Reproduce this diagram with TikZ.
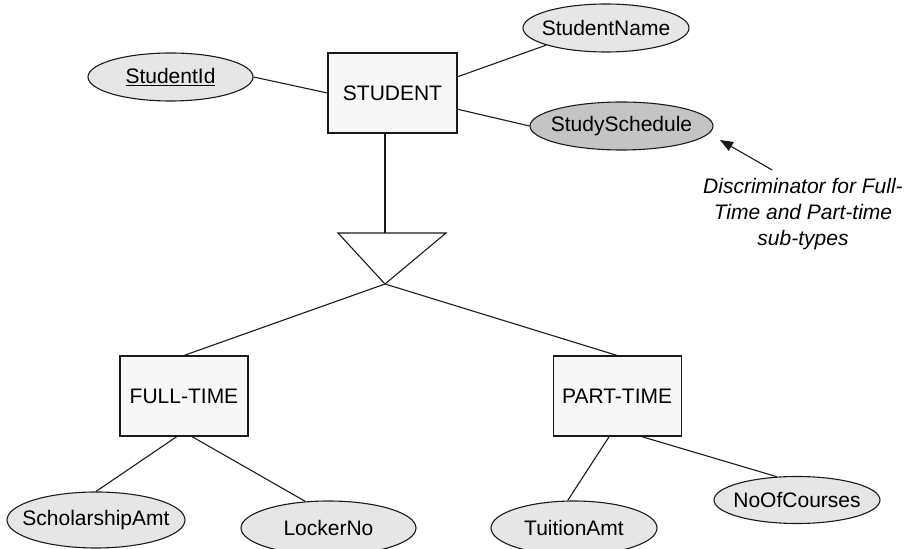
\documentclass[tikz,border=0pt]{standalone}
\usepackage{fontspec}
\setmainfont{Liberation Sans}
\usetikzlibrary{arrows.meta,positioning,shapes.geometric}
\definecolor{erline}{HTML}{1A1A1A}
\definecolor{erentity}{HTML}{F7F7F7}
\definecolor{erattr}{HTML}{E6E6E6}
\definecolor{erdisc}{HTML}{C4C4C4}
\newcommand{\erfont}{\fontsize{21}{26}\selectfont}
\tikzset{
  entity/.style={draw=erline,line width=1.1pt,fill=erentity,inner sep=0pt,
                 minimum width=129pt,minimum height=80pt,font=\erfont},
  % the label may run past the ellipse border, so it takes no width
  attr/.style={ellipse,draw=erline,line width=1.1pt,fill=erattr,inner sep=0pt,
               minimum height=48pt,font=\erfont,
               execute at begin node={\hbox to 0pt\bgroup\hss},
               execute at end node={\hss\egroup}},
  discattr/.style={attr,fill=erdisc},
  link/.style={draw=erline,line width=1.1pt},
  pointer/.style={-{Triangle[length=13pt,width=10pt]},line width=1.1pt,draw=erline},
  notelabel/.style={font=\erfont\itshape,align=center,inner xsep=3pt,inner ysep=8pt}
}

\begin{document}
\begin{tikzpicture}[x=1pt,y=1pt]
    \useasboundingbox (0,0) rectangle (906,549);
    \clip (0,0) rectangle (906,549);

    % supertype with its attributes
    \node[entity] (student) at (392.5,456) {STUDENT};
    \node[attr,minimum width=165pt] (studentid) at (170.5,472) {\underline{StudentId}};
    \node[attr,minimum width=166pt] (studentname) at (606,521) {StudentName};
    \node[discattr,minimum width=183pt] (studysched) at (621.5,423) {StudySchedule};

    % subtypes
    \node[entity,minimum width=128pt] (fulltime) at (184,153) {FULL-TIME};
    \node[entity,minimum width=128pt,right=304pt of fulltime] (parttime) {PART-TIME};

    \node[attr,minimum width=178pt,minimum height=56pt] (scholarship) at (96,29) {ScholarshipAmt};
    \node[attr,minimum width=175pt,minimum height=54pt] (locker) at (328.5,21) {LockerNo};
    \node[attr,minimum width=166pt,minimum height=54pt] (tuition) at (574,21) {TuitionAmt};
    \node[attr,minimum width=166pt,minimum height=47pt] (courses) at (797,49) {NoOfCourses};

    % specialization triangle
    \coordinate (isa) at (385,265);
    \coordinate (isaleft) at (338,316);
    \coordinate (isaright) at (446,316);
    \draw[link,fill=white] (isaleft) -- (isaright) -- (isa) -- cycle;

    \draw[link] (studentid.east) -- (student.west);
    \draw[link] (student.14) -- (studentname.196);
    \draw[link] (student.346) -- (studysched.west);
    \draw[link] (student.south -| isa) -- (isa |- isaleft);
    \draw[link] (isa) -- (fulltime.north);
    \draw[link] (isa) -- (parttime.north);
    \draw[link] (fulltime.260) -- (scholarship.north);
    \draw[link] (fulltime.281) -- (locker.131);
    \draw[link] (parttime.259) -- (tuition.103);
    \draw[link] (parttime.301) -- (courses.131);

    % note on the discriminator
    \node[notelabel] (note) at (803,335) {Discriminator for Full-\\Time and Part-time\\sub-types};
    \coordinate (tip) at (720,409);
    \draw[pointer] (note.125) -- (tip);
\end{tikzpicture}
\end{document}
